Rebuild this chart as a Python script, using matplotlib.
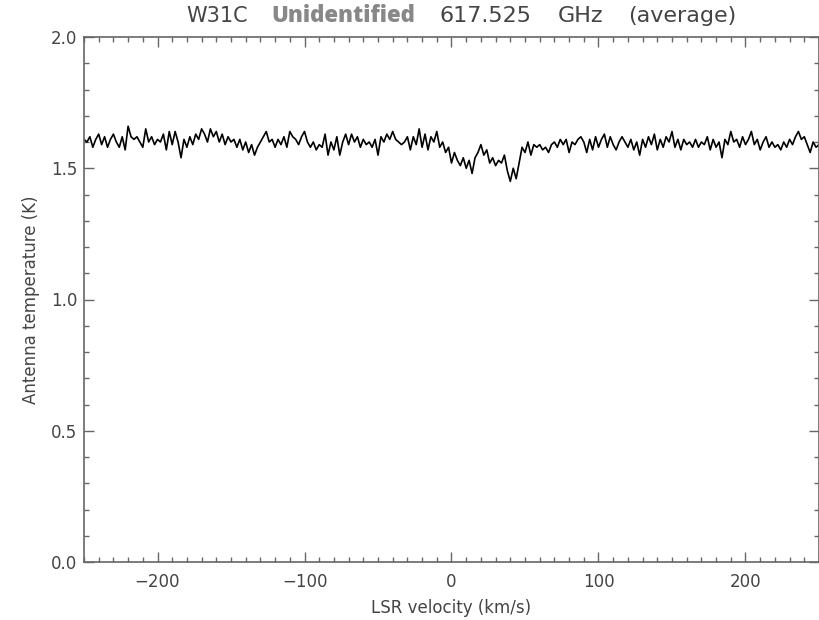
import numpy as np
import matplotlib

matplotlib.use("Agg")
import matplotlib.pyplot as plt
from matplotlib.ticker import MultipleLocator

plt.rcParams["font.family"] = "DejaVu Sans"

# LSR velocity channels (km/s) and antenna temperature (K)
velocity = np.arange(-250, 252, 2)
temperature = [
    1.61, 1.60, 1.62, 1.58, 1.61, 1.63, 1.59, 1.62, 1.58, 1.61,  # -250
    1.63, 1.60, 1.58, 1.62, 1.57, 1.66, 1.62, 1.61, 1.62, 1.60,  # -230
    1.58, 1.65, 1.60, 1.62, 1.59, 1.61, 1.60, 1.63, 1.57, 1.64,  # -210
    1.59, 1.64, 1.60, 1.54, 1.61, 1.58, 1.62, 1.59, 1.63, 1.61,  # -190
    1.65, 1.63, 1.60, 1.65, 1.62, 1.64, 1.60, 1.63, 1.59, 1.62,  # -170
    1.60, 1.61, 1.58, 1.61, 1.57, 1.60, 1.56, 1.59, 1.55, 1.58,  # -150
    1.60, 1.62, 1.64, 1.60, 1.61, 1.58, 1.61, 1.59, 1.62, 1.58,  # -130
    1.64, 1.62, 1.61, 1.59, 1.62, 1.64, 1.60, 1.58, 1.60, 1.57,  # -110
    1.59, 1.58, 1.63, 1.55, 1.60, 1.57, 1.62, 1.55, 1.60, 1.63,  # -90
    1.59, 1.63, 1.60, 1.62, 1.58, 1.61, 1.59, 1.60, 1.58, 1.61,  # -70
    1.55, 1.62, 1.60, 1.63, 1.61, 1.64, 1.61, 1.60, 1.59, 1.60,  # -50
    1.62, 1.57, 1.62, 1.59, 1.65, 1.58, 1.63, 1.57, 1.62, 1.60,  # -30
    1.64, 1.58, 1.60, 1.56, 1.58, 1.52, 1.56, 1.53, 1.51, 1.54,  # -10
    1.50, 1.53, 1.48, 1.54, 1.56, 1.59, 1.55, 1.57, 1.52, 1.54,  # 10
    1.51, 1.53, 1.52, 1.55, 1.49, 1.45, 1.50, 1.46, 1.52, 1.58,  # 30
    1.56, 1.60, 1.55, 1.59, 1.58, 1.59, 1.57, 1.58, 1.56, 1.59,  # 50
    1.60, 1.58, 1.61, 1.59, 1.61, 1.56, 1.60, 1.59, 1.61, 1.62,  # 70
    1.60, 1.56, 1.61, 1.57, 1.62, 1.58, 1.61, 1.63, 1.58, 1.62,  # 90
    1.59, 1.57, 1.60, 1.62, 1.60, 1.58, 1.61, 1.57, 1.60, 1.55,  # 110
    1.61, 1.58, 1.62, 1.59, 1.63, 1.57, 1.61, 1.58, 1.62, 1.60,  # 130
    1.64, 1.58, 1.61, 1.57, 1.61, 1.59, 1.60, 1.58, 1.61, 1.58,  # 150
    1.60, 1.59, 1.62, 1.57, 1.61, 1.58, 1.60, 1.54, 1.61, 1.59,  # 170
    1.64, 1.60, 1.61, 1.58, 1.62, 1.59, 1.61, 1.64, 1.59, 1.61,  # 190
    1.57, 1.60, 1.62, 1.58, 1.60, 1.58, 1.59, 1.57, 1.60, 1.58,  # 210
    1.61, 1.59, 1.62, 1.64, 1.61, 1.62, 1.59, 1.56, 1.60, 1.58,  # 230
    1.59,                                                        # 250
]

x_ticks = [-200, -100, 0, 100, 200]
y_ticks = [0.0, 0.5, 1.0, 1.5, 2.0]

text_color = "#444444"
axis_color = "#666666"

fig = plt.figure(figsize=(8.2, 6.2), dpi=100)
ax = fig.add_axes([84 / 820, 1 - 562 / 620, 735 / 820, 525 / 620])

ax.plot(velocity, temperature, color="black", lw=1.2)

ax.set_xlim(-250, 250)
ax.set_ylim(0.0, 2.0)
ax.set_xticks(x_ticks)
ax.set_yticks(y_ticks)
ax.set_yticklabels([f"{t:.1f}" for t in y_ticks])
ax.xaxis.set_minor_locator(MultipleLocator(10))
ax.yaxis.set_minor_locator(MultipleLocator(0.1))

ax.tick_params(which="both", direction="in", top=True, right=True,
               color=axis_color, width=1.0, labelcolor=text_color, labelsize=12)
ax.tick_params(which="major", length=7.5)
ax.tick_params(which="minor", length=3.8)
ax.tick_params(axis="x", pad=8)
ax.tick_params(axis="y", pad=5)

for sp in ax.spines.values():
    sp.set_color(axis_color)
    sp.set_linewidth(1.2)

ax.set_xlabel("LSR velocity (km/s)", fontsize=12, color=text_color, labelpad=6)
ax.set_ylabel("Antenna temperature (K)", fontsize=12, color=text_color, labelpad=8)

# title built from pieces, middle word in bold grey
ty = 1 - 16 / 620
fig.text(186 / 820, ty, "W31C", fontsize=15, color=text_color, va="center")
fig.text(271 / 820, ty, "Unidentified", fontsize=16, fontweight="heavy",
         family="Open Sans", color="#888888", va="center")
fig.text(440 / 820, ty, "617.525", fontsize=16, color=text_color, va="center")
fig.text(558 / 820, ty, "GHz", fontsize=16, color=text_color, va="center")
fig.text(628 / 820, ty, "(average)", fontsize=16, color=text_color, va="center")

fig.savefig("out.png", dpi=100, facecolor="white")
